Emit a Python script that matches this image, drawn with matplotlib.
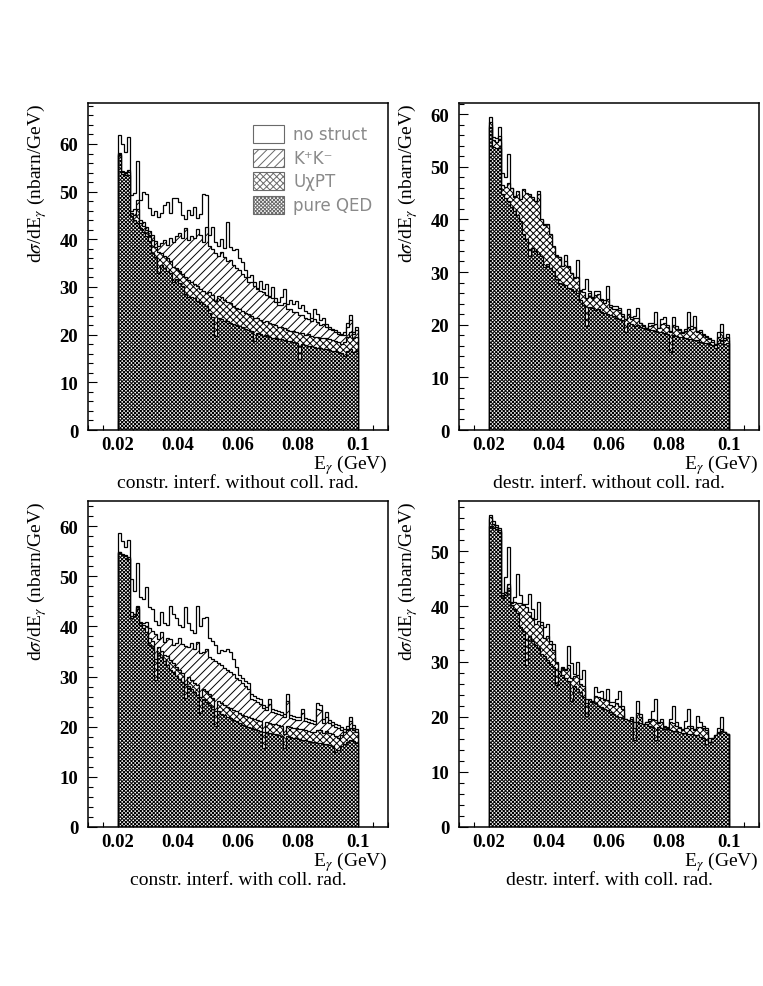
import numpy as np
import matplotlib
matplotlib.use("Agg")
import matplotlib.pyplot as plt
from matplotlib.patches import Rectangle
from matplotlib.ticker import FixedLocator, MultipleLocator

# binning: 80 bins of 1 MeV, 20-100 MeV
e_lo, e_hi, nbins = 0.02, 0.10, 80

# pure QED is the same in both interference cases
qed_nocoll = [
    57.6, 53.8, 53.5, 53.6, 44.8, 44.0, 43.5, 42.4, 41.6, 40.8,
    39.6, 37.2, 36.2, 33.0, 34.6, 34.0, 33.4, 33.0, 31.0, 31.6,
    30.8, 30.2, 28.6, 28.0, 27.8, 27.6, 27.0, 26.8, 26.4, 26.0,
    24.6, 23.8, 19.8, 23.4, 23.2, 22.8, 22.9, 22.4, 22.2, 22.0,
    21.8, 21.6, 21.2, 21.0, 20.8, 18.6, 20.4, 20.2, 19.8, 20.0,
    19.6, 19.4, 19.2, 19.0, 19.0, 18.8, 18.6, 18.6, 18.4, 18.2,
    14.8, 18.0, 17.8, 17.6, 17.6, 17.4, 17.2, 17.2, 17.0, 17.0,
    16.8, 16.6, 16.6, 16.4, 16.2, 15.6, 16.6, 17.0, 16.4, 16.6]
qed_coll = [
    54.6, 54.2, 54.0, 53.4, 41.6, 42.0, 43.4, 40.2, 39.6, 38.8,
    36.2, 35.6, 29.4, 34.6, 33.8, 33.0, 32.4, 31.4, 31.0, 30.2,
    29.6, 29.0, 25.8, 28.2, 27.6, 27.0, 26.4, 22.8, 25.6, 25.0,
    24.4, 23.6, 20.2, 23.2, 22.6, 22.4, 22.0, 21.8, 21.4, 21.2,
    20.8, 20.4, 20.2, 20.0, 19.8, 19.6, 19.4, 19.2, 15.8, 19.0,
    18.8, 18.6, 18.6, 18.4, 18.2, 15.8, 18.2, 18.0, 17.8, 17.8,
    17.6, 17.4, 17.4, 17.2, 17.0, 17.0, 16.8, 16.8, 16.6, 16.6,
    16.4, 16.2, 15.0, 15.4, 16.2, 16.6, 17.0, 17.4, 17.2, 16.8]

# constr. interf. without coll. rad.
nostruct_tl = [
    61.8, 59.9, 58.3, 61.4, 49.3, 49.8, 56.4, 48.3, 49.9, 49.5,
    46.5, 45.2, 46.0, 44.6, 45.5, 47.2, 47.8, 45.6, 48.7, 48.6,
    47.9, 45.0, 44.2, 46.1, 45.2, 46.8, 44.5, 45.4, 49.5, 49.2,
    41.0, 42.6, 39.5, 38.6, 40.0, 38.2, 43.6, 38.4, 37.8, 38.0,
    36.0, 35.2, 33.6, 32.2, 32.6, 31.0, 29.8, 31.2, 29.6, 30.6,
    28.2, 30.0, 27.6, 26.8, 28.0, 29.6, 26.5, 27.2, 26.4, 27.0,
    25.6, 26.3, 25.0, 24.6, 23.6, 25.3, 24.4, 23.0, 23.6, 22.2,
    21.6, 21.2, 21.0, 20.6, 20.2, 20.6, 22.4, 24.2, 20.6, 21.6]
kk_tl = [
    58.2, 54.4, 54.2, 54.6, 46.0, 46.4, 48.2, 44.0, 43.6, 42.6,
    41.8, 41.0, 39.6, 38.6, 39.2, 39.8, 38.8, 40.2, 39.4, 40.6,
    41.4, 40.2, 42.4, 39.8, 40.6, 40.2, 42.2, 41.0, 39.4, 42.6,
    38.6, 38.0, 37.2, 36.6, 37.4, 36.2, 35.4, 35.6, 34.6, 34.0,
    33.6, 32.8, 32.0, 31.0, 31.0, 30.2, 29.6, 29.2, 29.0, 28.4,
    27.8, 27.6, 26.8, 26.2, 26.2, 26.6, 25.4, 25.4, 24.8, 24.8,
    24.2, 24.2, 23.6, 23.2, 22.8, 23.2, 22.6, 22.0, 22.2, 21.6,
    21.2, 21.0, 20.6, 20.2, 20.0, 20.0, 21.6, 23.0, 20.2, 21.0]
uchpt_tl = [
    58.0, 54.2, 54.0, 54.2, 45.6, 45.0, 46.4, 43.4, 42.8, 42.0,
    41.0, 39.8, 38.4, 37.4, 37.2, 36.6, 36.0, 35.4, 34.2, 34.0,
    33.4, 32.8, 32.0, 31.4, 31.0, 30.6, 30.2, 29.6, 29.2, 28.8,
    29.0, 28.4, 27.0, 28.2, 27.8, 27.2, 26.8, 26.6, 26.0, 25.6,
    25.4, 25.0, 24.6, 24.4, 24.0, 23.6, 23.4, 23.0, 22.6, 22.8,
    22.4, 22.2, 22.0, 21.6, 21.6, 21.4, 21.0, 20.8, 20.8, 20.6,
    20.4, 20.4, 20.0, 20.2, 19.8, 19.6, 19.6, 19.4, 19.2, 19.2,
    19.0, 18.8, 18.6, 18.4, 18.0, 18.4, 19.6, 20.6, 19.2, 19.6]

# destr. interf. without coll. rad.
nostruct_tr = [
    59.4, 55.7, 55.4, 57.6, 48.8, 48.0, 52.4, 46.0, 44.4, 44.8,
    43.2, 41.6, 40.2, 39.6, 39.4, 38.6, 45.4, 39.8, 39.2, 38.8,
    37.0, 34.8, 33.2, 32.8, 31.0, 33.2, 31.2, 29.8, 29.0, 32.2,
    26.6, 26.8, 28.6, 26.4, 25.2, 26.4, 26.4, 24.8, 24.6, 27.4,
    23.8, 23.6, 23.6, 23.2, 22.0, 19.8, 23.0, 21.4, 21.6, 23.2,
    20.4, 20.0, 19.4, 20.4, 20.4, 22.4, 19.4, 21.0, 21.4, 20.0,
    18.8, 21.4, 19.8, 19.2, 18.6, 19.2, 22.4, 19.8, 21.6, 18.8,
    19.0, 18.2, 17.8, 17.4, 17.0, 16.4, 18.6, 20.2, 17.4, 18.2]
kk_tr = [
    58.0, 54.4, 54.0, 54.6, 45.6, 45.0, 45.0, 43.4, 42.4, 41.8,
    40.6, 39.0, 37.8, 36.4, 35.4, 35.2, 36.0, 35.0, 33.6, 33.0,
    32.2, 31.4, 30.0, 29.6, 28.8, 28.8, 28.2, 27.8, 27.2, 27.2,
    25.2, 24.6, 21.8, 24.4, 24.0, 23.8, 24.0, 23.2, 22.8, 22.8,
    22.4, 22.0, 21.8, 21.6, 21.0, 19.6, 21.0, 20.4, 20.2, 20.4,
    19.8, 19.6, 19.2, 19.4, 19.4, 19.4, 18.8, 19.2, 19.0, 18.8,
    16.0, 18.8, 18.4, 18.2, 17.8, 18.0, 18.0, 18.0, 18.0, 17.6,
    17.6, 17.2, 17.0, 16.8, 16.4, 15.8, 17.0, 17.6, 16.6, 17.0]
uchpt_tr = [
    58.4, 55.0, 54.6, 55.8, 46.6, 46.2, 47.0, 46.0, 44.2, 45.4,
    43.9, 45.8, 45.1, 44.8, 44.2, 43.5, 44.8, 40.0, 39.0, 39.1,
    37.2, 35.0, 33.1, 32.8, 31.2, 32.0, 31.0, 29.9, 28.8, 29.0,
    26.4, 26.2, 25.0, 26.0, 25.0, 25.6, 25.8, 24.6, 24.2, 24.8,
    23.4, 23.0, 23.0, 22.8, 21.6, 21.0, 22.0, 21.0, 21.2, 21.2,
    20.4, 19.8, 19.4, 19.8, 20.0, 20.2, 19.4, 20.2, 20.4, 19.6,
    18.6, 20.0, 19.2, 19.0, 18.4, 18.8, 19.6, 19.2, 19.6, 18.6,
    18.6, 18.0, 17.6, 17.2, 16.8, 16.2, 17.6, 18.6, 17.0, 17.6]

# constr. interf. with coll. rad.
nostruct_bl = [
    58.6, 57.0, 55.8, 57.2, 49.5, 47.0, 52.6, 45.8, 45.4, 47.8,
    43.8, 43.4, 41.0, 40.2, 42.8, 40.6, 40.2, 44.0, 42.4, 41.6,
    40.2, 39.8, 43.8, 40.6, 39.2, 38.6, 44.0, 40.0, 41.6, 41.8,
    37.6, 37.0, 36.2, 34.6, 35.2, 35.0, 35.4, 34.8, 33.4, 32.0,
    30.4, 29.8, 29.2, 28.8, 26.6, 26.2, 25.8, 25.6, 24.4, 24.0,
    25.6, 23.6, 23.4, 23.2, 23.0, 22.6, 26.6, 22.4, 22.2, 21.9,
    22.0, 23.6, 21.8, 21.6, 21.4, 21.2, 24.8, 24.4, 21.6, 23.0,
    21.4, 21.0, 20.6, 20.4, 20.0, 19.6, 20.2, 21.9, 20.4, 19.6]
kk_bl = [
    54.8, 54.2, 54.0, 53.6, 42.8, 42.4, 44.0, 40.8, 40.6, 40.8,
    39.6, 39.0, 38.4, 37.4, 38.8, 36.8, 37.6, 37.4, 36.2, 36.6,
    37.6, 36.4, 36.0, 35.8, 36.6, 35.4, 36.8, 34.6, 34.8, 35.4,
    33.8, 33.4, 33.0, 32.6, 32.4, 31.8, 31.4, 31.0, 30.6, 29.8,
    29.4, 28.8, 28.2, 27.6, 25.6, 25.4, 25.0, 24.6, 23.8, 23.4,
    24.6, 23.0, 22.8, 22.6, 22.4, 22.0, 25.2, 21.8, 21.6, 21.4,
    21.4, 22.8, 21.2, 21.0, 20.8, 20.6, 23.6, 23.4, 20.8, 22.0,
    20.8, 20.4, 20.0, 19.8, 19.4, 19.0, 19.6, 21.2, 19.8, 19.0]
uchpt_bl = [
    54.8, 54.4, 54.2, 53.8, 42.0, 42.4, 43.8, 40.6, 40.2, 40.0,
    37.6, 37.0, 33.4, 35.8, 35.0, 34.2, 34.0, 33.2, 32.6, 32.0,
    31.4, 30.8, 28.6, 30.0, 29.4, 28.8, 28.4, 26.0, 27.6, 27.2,
    26.6, 25.8, 23.2, 25.2, 24.8, 24.4, 24.0, 23.8, 23.4, 23.2,
    22.8, 22.4, 22.2, 22.0, 21.8, 21.6, 21.4, 21.2, 19.0, 21.0,
    20.8, 20.6, 20.6, 20.4, 20.2, 18.6, 20.2, 20.0, 19.8, 19.8,
    19.6, 19.6, 19.4, 19.2, 19.0, 19.0, 19.4, 19.4, 18.8, 19.2,
    18.8, 18.6, 18.2, 17.8, 18.4, 19.0, 19.4, 19.8, 19.4, 19.0]

# destr. interf. with coll. rad.
nostruct_br = [
    56.6, 55.4, 54.8, 54.2, 42.4, 45.3, 50.7, 40.7, 41.7, 45.9,
    42.1, 40.4, 40.4, 42.3, 39.5, 37.7, 40.7, 37.2, 36.2, 36.8,
    33.8, 33.2, 29.9, 28.1, 29.0, 28.6, 32.9, 29.8, 27.8, 29.9,
    26.8, 28.4, 23.2, 22.9, 22.9, 25.3, 24.4, 24.7, 23.2, 25.0,
    22.6, 22.6, 23.2, 24.7, 22.0, 19.6, 19.0, 19.9, 19.0, 22.9,
    20.5, 18.4, 19.0, 19.6, 21.1, 23.2, 19.0, 19.6, 18.4, 18.1,
    19.6, 22.0, 19.0, 18.1, 17.8, 19.3, 21.4, 18.4, 17.8, 20.2,
    19.0, 18.4, 18.0, 16.2, 16.2, 16.0, 18.0, 19.9, 17.2, 16.9]
kk_br = [
    55.8, 54.6, 54.0, 53.6, 41.8, 42.2, 43.6, 40.4, 40.2, 39.6,
    38.4, 37.6, 33.0, 36.4, 35.6, 34.6, 35.2, 33.6, 32.8, 32.4,
    31.6, 30.8, 28.0, 27.6, 27.6, 27.4, 27.8, 23.6, 26.6, 26.4,
    25.4, 24.8, 21.0, 22.4, 22.2, 22.6, 22.6, 22.2, 21.8, 21.8,
    21.4, 21.0, 21.2, 21.0, 20.6, 19.0, 18.8, 19.2, 16.4, 19.8,
    19.2, 18.4, 18.8, 18.8, 18.8, 16.8, 18.4, 18.4, 18.0, 17.8,
    18.2, 18.2, 17.8, 17.6, 17.2, 17.4, 17.6, 17.4, 17.0, 17.4,
    17.2, 16.8, 16.6, 15.0, 16.0, 16.6, 17.2, 17.6, 17.2, 16.8]
uchpt_br = [
    56.2, 55.0, 54.4, 53.8, 42.0, 42.6, 44.0, 40.6, 40.8, 40.6,
    40.6, 40.2, 39.8, 39.0, 37.8, 36.8, 37.4, 36.6, 34.2, 34.6,
    33.2, 32.0, 29.8, 28.0, 28.8, 28.4, 29.4, 27.0, 27.4, 27.6,
    26.0, 25.6, 22.4, 22.6, 22.8, 23.8, 23.6, 23.4, 23.0, 23.0,
    22.2, 22.0, 22.4, 22.0, 21.4, 19.2, 19.0, 19.6, 18.0, 20.6,
    20.0, 18.4, 19.0, 19.2, 19.6, 19.4, 18.8, 19.0, 18.2, 18.0,
    19.0, 18.8, 18.4, 18.0, 17.6, 18.0, 18.4, 18.0, 17.6, 18.2,
    18.2, 18.0, 17.6, 15.4, 16.0, 15.8, 17.0, 17.8, 17.0, 16.8]

legend_labels = ['no struct', 'K⁺K⁻', 'UχPT', 'pure QED']
hatches = ['', '////', 'xxxxx', 'xxxxxxxxx']
captions = ['constr. interf. without coll. rad.', 'destr. interf. without coll. rad.',
            'constr. interf. with coll. rad.', 'destr. interf. with coll. rad.']
x_ticks = [0.02, 0.04, 0.06, 0.08, 0.1]
x_ticklabels = ['0.02', '0.04', '0.06', '0.08', '0.1']

plt.rcParams['font.family'] = ['Liberation Serif', 'DejaVu Serif']
plt.rcParams['mathtext.fontset'] = 'stix'
plt.rcParams['hatch.linewidth'] = 0.7

W, H = 763, 987
fig = plt.figure(figsize=(W / 100, H / 100), dpi=100)

# (left, top, width, height) in pixels, y-limit
panels = [
    ((88, 104, 300, 327), 68.6, [nostruct_tl, kk_tl, uchpt_tl, qed_nocoll]),
    ((459, 104, 300, 327), 62.1, [nostruct_tr, kk_tr, uchpt_tr, qed_nocoll]),
    ((88, 502, 300, 326), 65.0, [nostruct_bl, kk_bl, uchpt_bl, qed_coll]),
    ((459, 502, 300, 326), 59.1, [nostruct_br, kk_br, uchpt_br, qed_coll]),
]

edges = np.linspace(e_lo, e_hi, nbins + 1)

for k, ((l, t, w, h), ymax, series) in enumerate(panels):
    ax = fig.add_axes([l / W, 1 - (t + h) / H, w / W, h / H])
    ax.set_axisbelow(True)
    for vals, hatch in zip(series, hatches):
        ax.stairs(vals, edges, fill=True, facecolor='white', edgecolor='black',
                  hatch=hatch, linewidth=0.9)
    ax.set_xlim(0.01, 0.11)
    ax.set_ylim(0, ymax)

    ax.xaxis.set_major_locator(FixedLocator(x_ticks))
    ax.set_xticklabels(x_ticklabels, fontweight='bold', fontsize=13.5)
    ax.xaxis.set_minor_locator(MultipleLocator(0.005))
    ax.yaxis.set_major_locator(MultipleLocator(10))
    ax.yaxis.set_minor_locator(MultipleLocator(2))
    for lab in ax.get_yticklabels():
        lab.set_fontweight('bold')
        lab.set_fontsize(13.5)
    ax.tick_params(which='both', direction='in', top=False, right=False, width=0.8)
    ax.tick_params(which='major', length=6.5)
    ax.tick_params(which='minor', length=3.5)
    ax.tick_params(axis='y', pad=7)
    ax.tick_params(axis='x', pad=4)
    for sp in ax.spines.values():
        sp.set_linewidth(1.1)

    ax.text(-0.17, 1.0, r'd$\sigma$/dE$_{\gamma}$ (nbarn/GeV)', transform=ax.transAxes,
            rotation=90, ha='center', va='top', fontsize=14)
    ax.text(1.0, -34 / h, r'E$_{\gamma}$ (GeV)', transform=ax.transAxes,
            ha='right', va='center', fontsize=14)
    ax.text(0.5, -53 / h, captions[k], transform=ax.transAxes,
            ha='center', va='center', fontsize=14)

    if k == 0:
        # legend box drawn by hand, pixel positions inside the panel
        for j, (lab, hatch) in enumerate(zip(legend_labels, hatches)):
            top = 126 + 23.7 * j
            x0 = (253 - l) / w
            y0 = (t + h - top - 18) / h
            ax.add_patch(Rectangle((x0, y0), 31 / w, 18 / h, transform=ax.transAxes,
                                   facecolor='white', edgecolor='#6a6a6a', hatch=hatch,
                                   linewidth=0.8, zorder=5))
            ax.text((293 - l) / w, y0 + 9 / h, lab, transform=ax.transAxes,
                    ha='left', va='center', fontsize=12, color='#8a8a8a',
                    family=['DejaVu Sans'], zorder=5)

fig.savefig('out.png', dpi=100)
